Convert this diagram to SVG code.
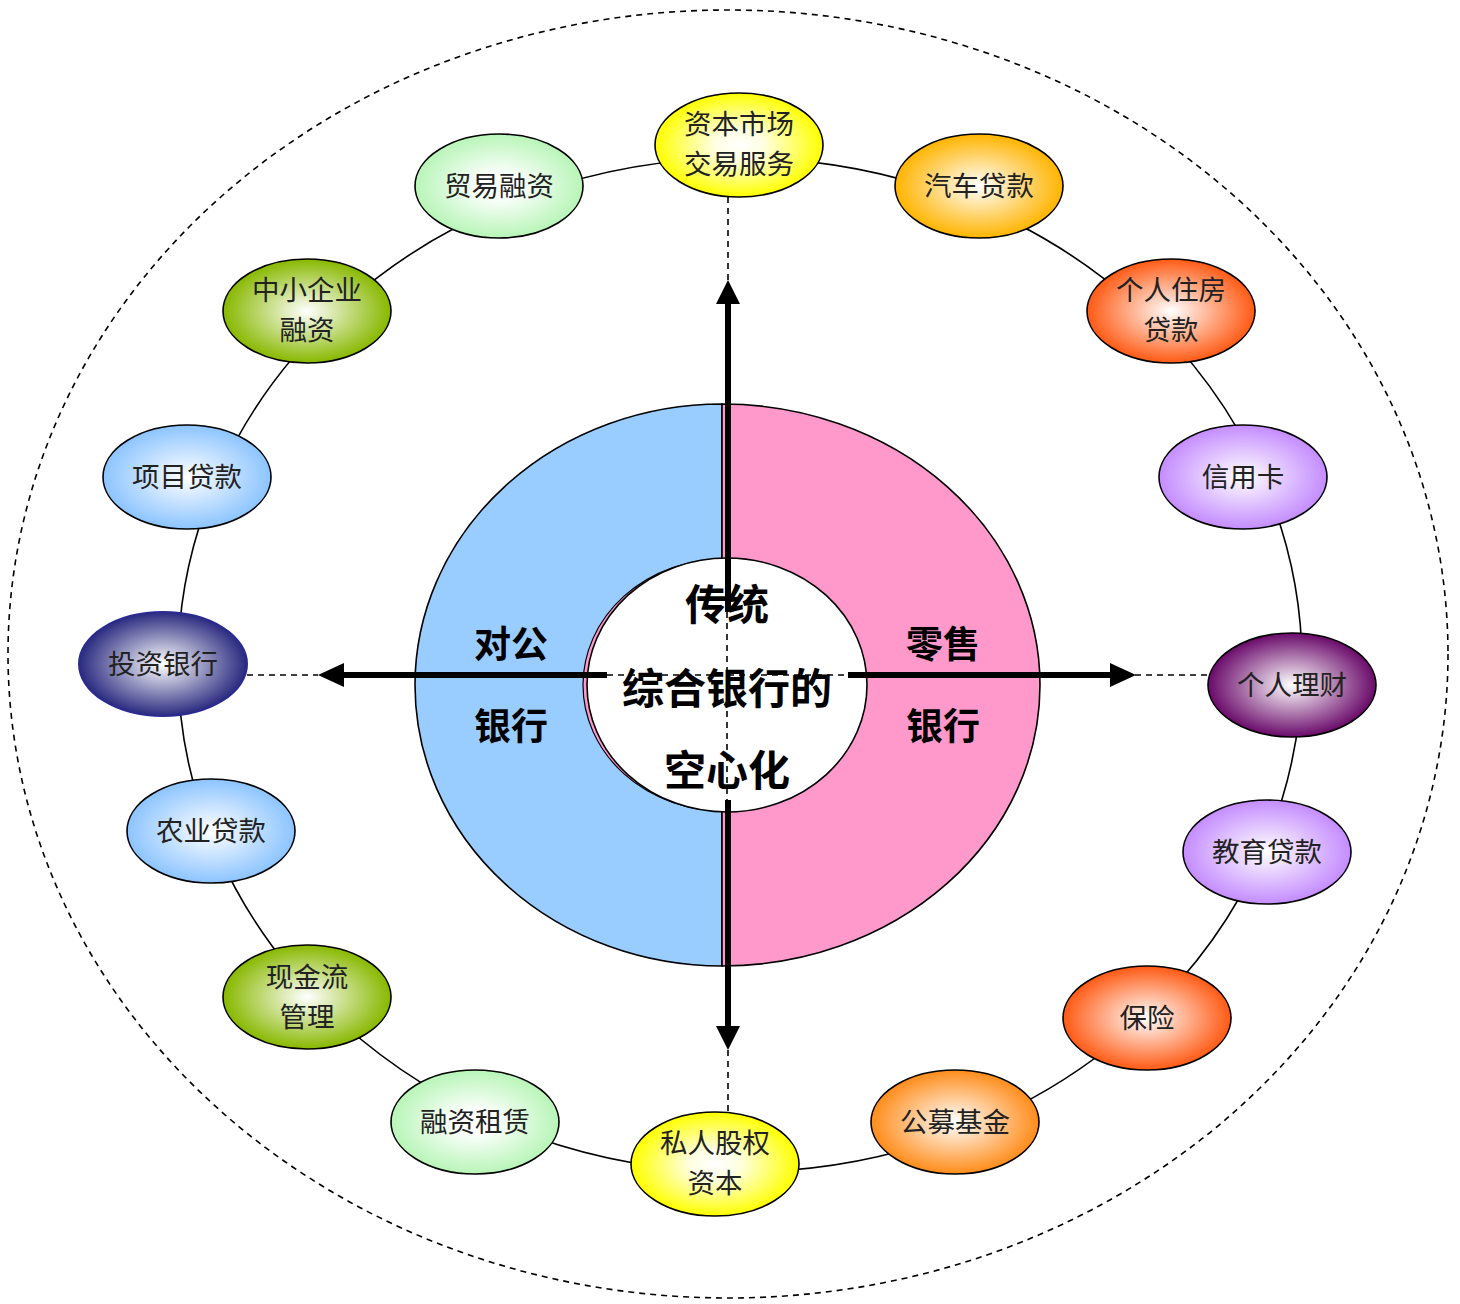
<svg xmlns="http://www.w3.org/2000/svg" width="1460" height="1304" viewBox="0 0 1460 1304">
<style>
.node{stroke:#000;stroke-width:1.6}
.lbl{font-family:"Noto Sans CJK SC","Noto Sans CJK JP",sans-serif;font-size:27.5px;fill:#222;text-anchor:middle;dominant-baseline:central}
.big{font-family:"Noto Sans CJK SC","Noto Sans CJK JP",sans-serif;font-size:37px;font-weight:600;fill:#000;text-anchor:middle;dominant-baseline:central}
.ctr{font-family:"Noto Sans CJK SC","Noto Sans CJK JP",sans-serif;font-size:42px;font-weight:600;fill:#000;text-anchor:middle;dominant-baseline:central}
.dash{stroke:#000;stroke-width:1.6;stroke-dasharray:6,5;fill:none}
.thick{stroke:#000;stroke-width:6;fill:none}
</style>
<defs>
<radialGradient id="gY"><stop offset="0" stop-color="#fff"/><stop offset="0.3" stop-color="#ffffe0"/><stop offset="1" stop-color="#ffff00"/></radialGradient>
<radialGradient id="gLG"><stop offset="0" stop-color="#fff"/><stop offset="0.2" stop-color="#fff"/><stop offset="1" stop-color="#b8f5b8"/></radialGradient>
<radialGradient id="gOY"><stop offset="0" stop-color="#fff"/><stop offset="1" stop-color="#ffb400"/></radialGradient>
<radialGradient id="gG"><stop offset="0" stop-color="#fff"/><stop offset="1" stop-color="#88b800"/></radialGradient>
<radialGradient id="gOR"><stop offset="0" stop-color="#fff"/><stop offset="1" stop-color="#ff5a14"/></radialGradient>
<radialGradient id="gLB"><stop offset="0" stop-color="#fff"/><stop offset="1" stop-color="#8cc4ff"/></radialGradient>
<radialGradient id="gLP"><stop offset="0" stop-color="#fff"/><stop offset="1" stop-color="#c48cff"/></radialGradient>
<radialGradient id="gN"><stop offset="0" stop-color="#fff"/><stop offset="1" stop-color="#2a2a80"/></radialGradient>
<radialGradient id="gP"><stop offset="0" stop-color="#fff"/><stop offset="1" stop-color="#6a0a6a"/></radialGradient>
<radialGradient id="gO"><stop offset="0" stop-color="#fff"/><stop offset="1" stop-color="#ff8c1a"/></radialGradient>
</defs>

<ellipse id="outer" cx="728" cy="654" rx="720" ry="644" class="dash"/>

<g id="connectors">
<ellipse cx="740" cy="665" rx="562" ry="507" fill="none" stroke="#000" stroke-width="1.6"/>
</g>

<g id="core">
<path d="M722,404 A307,281 0 0 0 722,966 Z" fill="#99ccff" stroke="#000" stroke-width="1.6"/>
<path d="M722,404 A318,281 0 0 1 722,966 Z" fill="#ff99cc" stroke="#000" stroke-width="1.6"/>
<ellipse cx="724" cy="685" rx="141" ry="126" fill="#ff99cc" stroke="#000" stroke-width="1.2"/>
<ellipse cx="727" cy="685" rx="140" ry="127" fill="#fff" stroke="#000" stroke-width="1.6"/>
</g>

<g id="arrows">
<line x1="728" y1="197" x2="728" y2="282" class="dash"/>
<line x1="728" y1="1050" x2="728" y2="1112" class="dash"/>
<line x1="247" y1="675" x2="318" y2="675" class="dash"/>
<line x1="1135" y1="675" x2="1208" y2="675" class="dash"/>
<line x1="727" y1="612" x2="727" y2="800" class="dash"/>
<line x1="607" y1="675" x2="848" y2="675" class="dash"/>
<line x1="728" y1="612" x2="728" y2="300" class="thick"/>
<polygon points="728,280 716,304 740,304" fill="#000"/>
<line x1="728" y1="800" x2="728" y2="1028" class="thick"/>
<polygon points="728,1050 716,1026 740,1026" fill="#000"/>
<line x1="607" y1="675" x2="340" y2="675" class="thick"/>
<polygon points="318,675 344,663 344,687" fill="#000"/>
<line x1="848" y1="675" x2="1113" y2="675" class="thick"/>
<polygon points="1136,675 1110,663 1110,687" fill="#000"/>
</g>

<g id="labels">
<text x="511" y="642" class="big">对公</text>
<text x="511" y="724" class="big">银行</text>
<text x="943" y="642" class="big">零售</text>
<text x="943" y="724" class="big">银行</text>
<text x="727" y="601" class="ctr">传统</text>
<text x="727" y="685" class="ctr">综合银行的</text>
<text x="727" y="767" class="ctr">空心化</text>
</g>

<g id="n1"><ellipse cx="739" cy="145" rx="84" ry="52" class="node" fill="url(#gY)"/><text x="739" y="122" class="lbl">资本市场</text><text x="739" y="162" class="lbl">交易服务</text></g>
<g id="n2"><ellipse cx="499" cy="186" rx="84" ry="52" class="node" fill="url(#gLG)"/><text x="499" y="184" class="lbl">贸易融资</text></g>
<g id="n3"><ellipse cx="979" cy="186" rx="84" ry="52" class="node" fill="url(#gOY)"/><text x="979" y="184" class="lbl">汽车贷款</text></g>
<g id="n4"><ellipse cx="307" cy="311" rx="84" ry="52" class="node" fill="url(#gG)"/><text x="307" y="288" class="lbl">中小企业</text><text x="307" y="328" class="lbl">融资</text></g>
<g id="n5"><ellipse cx="1171" cy="311" rx="84" ry="52" class="node" fill="url(#gOR)"/><text x="1171" y="288" class="lbl">个人住房</text><text x="1171" y="328" class="lbl">贷款</text></g>
<g id="n6"><ellipse cx="187" cy="477" rx="84" ry="52" class="node" fill="url(#gLB)"/><text x="187" y="475" class="lbl">项目贷款</text></g>
<g id="n7"><ellipse cx="1243" cy="477" rx="84" ry="52" class="node" fill="url(#gLP)"/><text x="1243" y="475" class="lbl">信用卡</text></g>
<g id="n8"><ellipse cx="163" cy="664" rx="84" ry="52" fill="url(#gN)" stroke="#2a2a90" stroke-width="2"/><text x="163" y="662" class="lbl">投资银行</text></g>
<g id="n9"><ellipse cx="1292" cy="685" rx="84" ry="52" class="node" fill="url(#gP)"/><text x="1292" y="683" class="lbl">个人理财</text></g>
<g id="n10"><ellipse cx="211" cy="831" rx="84" ry="52" class="node" fill="url(#gLB)"/><text x="211" y="829" class="lbl">农业贷款</text></g>
<g id="n11"><ellipse cx="1267" cy="852" rx="84" ry="52" class="node" fill="url(#gLP)"/><text x="1267" y="850" class="lbl">教育贷款</text></g>
<g id="n12"><ellipse cx="307" cy="997" rx="84" ry="52" class="node" fill="url(#gG)"/><text x="307" y="975" class="lbl">现金流</text><text x="307" y="1015" class="lbl">管理</text></g>
<g id="n13"><ellipse cx="1147" cy="1018" rx="84" ry="52" class="node" fill="url(#gOR)"/><text x="1147" y="1016" class="lbl">保险</text></g>
<g id="n14"><ellipse cx="475" cy="1122" rx="84" ry="52" class="node" fill="url(#gLG)"/><text x="475" y="1120" class="lbl">融资租赁</text></g>
<g id="n15"><ellipse cx="955" cy="1122" rx="84" ry="52" class="node" fill="url(#gO)"/><text x="955" y="1120" class="lbl">公募基金</text></g>
<g id="n16"><ellipse cx="715" cy="1164" rx="84" ry="52" class="node" fill="url(#gY)"/><text x="715" y="1141" class="lbl">私人股权</text><text x="715" y="1181" class="lbl">资本</text></g>
</svg>
